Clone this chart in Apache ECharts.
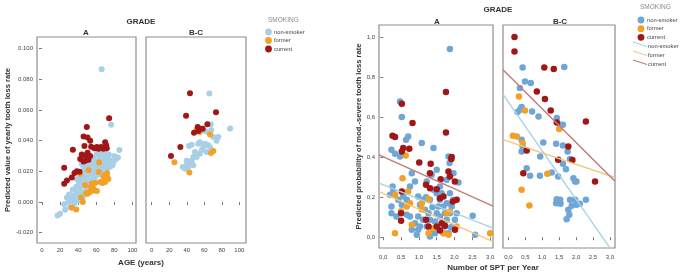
<!DOCTYPE html>
<html>
<head>
    <meta charset="utf-8">
    <title>Tooth loss by GRADE and SMOKING</title>
    <script src="https://cdn.jsdelivr.net/npm/echarts@6.0.0/dist/echarts.min.js"></script>
    <style>
        html, body { margin: 0; padding: 0; background: #fff; }
        #main { width: 685px; height: 276px; }
    </style>
</head>
<body>
<div id="main"></div>
<script type="text/javascript">
    // ---- left figure: AGE (years) vs predicted yearly tooth loss rate ----
    var ageA_nonSmoker = [[66,0.0865],[76.5,0.0504],[85.7,0.034],[82,0.028],[79,0.026],[71.7,0.031],[17.3,-0.0087],[20,-0.0076],
        [25.7,-0.005],[24.6,-0.0015],[27.6,0.003],[32,0.001],[33,0.0043],[36.8,0.002],[38.6,0.0054],[40.4,0.0076],[42.3,0.0098],
        [44,0.0065],[46,0.012],[47.8,0.014],[49.6,0.011],[50.4,0.016],[52.6,0.0185],[54,0.0217],[55,0.014],[57,0.0196],[58.8,0.0228],
        [60,0.0174],[61.4,0.025],[62.5,0.0207],[64.3,0.0239],[66.2,0.0185],[68,0.0272],[69.9,0.0228],[71.7,0.025],[44,0.025],
        [46,0.0228],[47.8,0.0185],[42.3,0.0163],[38.6,0.0148],[51.5,0.027],[57,0.029],[60.7,0.0315],[64.3,0.029],[53.3,0.0098],
        [51.5,0.0076],[47.8,0.0054],[40.4,0.001],[35.7,-0.001],[31.2,-0.0033],[75.4,0.023],[66.2,0.0326],[56,0.025],[59,0.02],
        [63,0.027],[49,0.02],[45,0.017],[43,0.006],[36,0.004],[29,0.0],[53,0.024],[67,0.022],[73,0.028],[78,0.024],
        [30,0.005],[34,0.008],[38,0.01],[41,0.013],[44,0.015],[47,0.021],[50,0.023],[52,0.013],[55,0.018],[57,0.023],
        [59,0.027],[61,0.021],[63,0.018],[65,0.025],[67,0.03],[69,0.026],[72,0.022],[74,0.031],[76,0.027],[80,0.03],
        [84,0.029],[58,0.015],[54,0.011],[49,0.008],[45,0.003],[39,0.007],[70,0.033],[62,0.031]];
    var ageA_former = [[33,-0.0037],[37.9,-0.0048],[43,0.003],[45.2,0.0],[42.3,0.0185],[51.5,0.0207],[47.8,0.011],[48.9,0.0059],
        [53.3,0.0065],[57,0.0087],[58.8,0.0124],[60.7,0.0072],[64.3,0.013],[62.9,0.0196],[63.2,0.0257],[68,0.0163],[69.9,0.018],
        [71.7,0.0174],[69.9,0.013],[66.9,0.0124],[73.5,0.015],[54,0.0098],[50.4,0.0054],[58,0.0076],[72,0.019],[55,0.012]];
    var ageA_current = [[74.3,0.0546],[49.6,0.0489],[46,0.0428],[50.4,0.042],[53.3,0.04],[34.2,0.0341],[47,0.0365],[54.4,0.036],
        [60.7,0.0359],[65.4,0.0359],[69.9,0.039],[71,0.037],[68,0.0348],[62.5,0.0348],[50.4,0.0322],[48,0.0304],[53.3,0.03],
        [42.3,0.028],[46,0.0265],[51.5,0.0276],[24.6,0.0224],[38.6,0.02],[36,0.019],[33,0.016],[27.6,0.014],[24.6,0.012],
        [41.5,0.0198],[71.7,0.035],[44,0.031],[48,0.027],[58,0.035]];

    var ageBC_nonSmoker = [[65.8,0.0707],[89.4,0.048],[67.3,0.0507],[42.6,0.0365],[45.6,0.0374],[35.4,0.0228],[38,0.0217],
        [39.9,0.024],[43.7,0.025],[45.6,0.027],[47.5,0.0293],[51.3,0.0293],[55,0.0315],[57,0.0337],[59,0.0359],[55,0.039],
        [53.2,0.038],[60.8,0.038],[64.6,0.037],[74,0.04],[76,0.0424],[70.3,0.0424],[39.9,0.027],[49.4,0.0326],[62.7,0.0326],
        [66.5,0.0359],[41.8,0.0228],[47.5,0.024],[62,0.046],[68,0.047]];
    var ageBC_former = [[25.9,0.026],[43,0.0193],[66.5,0.0441],[67.7,0.032],[70.3,0.0333],[55,0.0457],[51,0.047]];
    var ageBC_current = [[43.7,0.0709],[22,0.03],[32.7,0.0359],[39.2,0.0563],[52.5,0.049],[55,0.0478],[58.2,0.0478],
        [48.3,0.0452],[63.5,0.0507],[73.4,0.0585],[53.2,0.0463]];

    // ---- right figure: number of SPT per year vs predicted probability ----
    var sptA_nonSmoker = [[1.87,0.94],[0.47,0.678],[0.23,0.437],[0.33,0.417],[0.47,0.403],[0.7,0.503],[0.64,0.487],[1.08,0.47],
        [1.41,0.445],[0.26,0.253],[0.28,0.228],[0.19,0.212],[0.23,0.153],[0.23,0.12],[0.56,0.203],[0.66,0.187],[0.75,0.253],
        [0.8,0.32],[0.89,0.278],[0.98,0.203],[1.03,0.162],[1.12,0.187],[1.17,0.137],[1.27,0.12],[1.31,0.087],[1.22,0.053],
        [1.41,0.037],[1.45,0.078],[1.5,0.12],[1.55,0.153],[1.59,0.187],[1.64,0.22],[1.5,0.337],[1.36,0.312],[1.22,0.278],
        [1.59,0.037],[1.69,0.02],[1.73,0.053],[1.78,0.087],[1.83,0.02],[1.87,0.12],[1.92,0.153],[1.97,0.187],[2.01,0.087],
        [2.06,0.12],[2.11,0.273],[1.97,0.32],[1.86,0.37],[1.83,0.403],[2.51,0.107],[2.58,0.012],[0.98,0.037],[0.89,0.07],
        [0.75,0.103],[0.66,0.112],[0.37,0.103],[0.52,0.162],[0.42,0.187],[1.03,0.053],[1.12,0.087],[1.31,0.187],[1.41,0.237],
        [1.5,0.22],[1.59,0.253],[1.69,0.153],[1.73,0.12],[1.78,0.17],[1.59,0.103],[1.45,0.02],[1.31,0.003],[0.94,0.012],
        [0.8,0.037],[0.98,0.103],[1.87,0.22],[1.78,0.287],[0.52,0.6],[1.2,0.2],[1.38,0.15],[1.65,0.07],[1.9,0.05]];
    var sptA_former = [[0.63,0.408],[0.54,0.295],[0.33,0.212],[0.33,0.02],[0.7,0.228],[0.66,0.153],[0.8,0.062],[1.08,0.14],
        [1.27,0.02],[1.87,0.128],[1.78,0.12],[2.06,0.053],[3.0,0.02],[1.08,0.17],[1.27,0.19],[0.75,0.17],[1.41,0.045],
        [1.69,0.02],[1.83,0.012],[0.5,0.13]];
    var sptA_current = [[1.76,0.725],[1.76,0.523],[0.52,0.667],[0.82,0.57],[0.26,0.507],[0.33,0.5],[0.52,0.428],[0.56,0.445],
        [0.73,0.442],[1.01,0.373],[1.33,0.367],[1.92,0.4],[1.91,0.39],[1.83,0.328],[1.87,0.303],[2.01,0.278],[1.95,0.178],
        [2.06,0.187],[1.61,0.29],[1.5,0.24],[1.59,0.195],[1.69,0.203],[1.2,0.262],[1.31,0.245],[0.52,0.228],[0.5,0.12],
        [0.5,0.082],[1.2,0.087],[1.27,0.053],[1.59,0.033],[1.64,0.07],[1.73,0.057],[1.5,0.053],[1.31,0.32],[2.01,0.037]];

    var sptBC_nonSmoker = [[0.42,0.848],[1.65,0.85],[0.49,0.778],[0.66,0.77],[0.34,0.745],[0.39,0.65],[0.27,0.625],[0.34,0.637],
        [0.7,0.628],[0.89,0.603],[1.43,0.595],[1.53,0.562],[1.61,0.562],[0.39,0.487],[0.42,0.453],[0.39,0.428],[1.03,0.473],
        [1.41,0.467],[1.61,0.458],[1.75,0.428],[1.82,0.39],[0.94,0.403],[0.54,0.345],[0.64,0.307],[0.93,0.307],[1.28,0.323],
        [1.47,0.303],[1.61,0.367],[1.7,0.34],[1.92,0.295],[1.97,0.278],[2.01,0.278],[1.43,0.19],[1.47,0.173],[1.53,0.187],
        [1.41,0.17],[1.54,0.167],[1.82,0.187],[1.87,0.157],[1.97,0.187],[2.01,0.162],[2.11,0.167],[2.29,0.187],[1.77,0.137],
        [1.8,0.112],[1.72,0.09]];
    var sptBC_former = [[0.31,0.703],[0.49,0.633],[0.13,0.507],[0.25,0.503],[0.42,0.47],[0.39,0.237],[0.62,0.158],
        [1.15,0.317],[1.5,0.54]];
    var sptBC_current = [[0.18,1.0],[0.18,0.928],[1.06,0.848],[1.34,0.84],[0.84,0.728],[1.08,0.69],[1.25,0.633],[1.43,0.573],
        [2.29,0.578],[1.77,0.453],[1.47,0.387],[1.89,0.385],[0.54,0.433],[0.44,0.32],[2.56,0.278]];

    // fitted lines, given as [x, y] at both ends of each facet
    var fitA_nonSmoker = [[-0.12,0.27],[3.08,0.045]];
    var fitA_former = [[-0.12,0.228],[3.08,-0.022]];
    var fitA_current = [[-0.12,0.411],[3.08,0.155]];
    var fitBC_nonSmoker = [[-0.16,0.713],[3.15,-0.09]];
    var fitBC_former = [[-0.16,0.487],[3.15,0.298]];
    var fitBC_current = [[-0.16,0.836],[3.15,0.28]];

    var ageTicks = [0, 20, 40, 60, 80, 100];
    var rateTicks = [-0.02, 0, 0.02, 0.04, 0.06, 0.08, 0.1];
    var sptTicks = [0, 0.5, 1, 1.5, 2, 2.5, 3];
    var probTicks = [0, 0.2, 0.4, 0.6, 0.8, 1];

    var FONT = "'Liberation Sans', Arial, sans-serif";
    var C_NON_L = '#a9cfe6', C_NON_R = '#6ea7d6', C_FORMER = '#f2a127', C_CURRENT = '#a11616';
    var L_NON = '#a9d3e3', L_FORMER = '#f3c77f', L_CURRENT = '#c27b78';

    function xAxisOf(grid, min, max, ticks, fmt, margin) {
        return {
            type: 'value', gridIndex: grid, min: min, max: max,
            splitLine: {show: false},
            axisLine: {show: false},
            axisTick: {show: true, length: 3, customValues: ticks, lineStyle: {color: '#777'}},
            axisLabel: {customValues: ticks, formatter: fmt, fontSize: 6, color: '#444', margin: margin, fontFamily: FONT}
        };
    }

    function yAxisOf(grid, min, max, ticks, fmt, showLabels, name, gap) {
        return {
            type: 'value', gridIndex: grid, min: min, max: max,
            splitLine: {show: false},
            axisLine: {show: false},
            axisTick: {show: showLabels, length: 3, customValues: ticks, lineStyle: {color: '#777'}},
            axisLabel: {show: showLabels, customValues: ticks, formatter: fmt, fontSize: 6, color: '#444', margin: 4, fontFamily: FONT},
            name: name, nameLocation: 'middle', nameGap: gap,
            nameTextStyle: {fontSize: 7.6, fontWeight: 'bold', color: '#333', fontFamily: FONT}
        };
    }

    function dots(name, data, grid, color, size) {
        return {
            name: name, type: 'scatter', xAxisIndex: grid, yAxisIndex: grid,
            data: data, symbolSize: size, itemStyle: {color: color, opacity: 1}, silent: true
        };
    }

    function fit(name, data, grid, color) {
        return {
            name: name, type: 'line', xAxisIndex: grid, yAxisIndex: grid, data: data,
            symbol: 'none', clip: true, lineStyle: {color: color, width: 1.4}, silent: true
        };
    }

    var fmtRate = function (v) { return v.toFixed(3); };
    var fmtAge = function (v) { return String(Math.round(v)); };
    var fmtComma = function (v) { return v.toFixed(1).replace('.', ','); };

    function txt(x, y, s, size, bold, color, align) {
        return {
            type: 'text', x: x, y: y, silent: true,
            style: {text: s, fontSize: size, fontWeight: bold ? 'bold' : 'normal', fill: color || '#333',
                fontFamily: FONT, align: align || 'center', verticalAlign: 'middle'}
        };
    }

    function dot(cx, cy, color) {
        return {type: 'circle', shape: {cx: cx, cy: cy, r: 3.4}, style: {fill: color}, silent: true};
    }

    function seg(x1, y1, x2, y2, color) {
        return {type: 'line', shape: {x1: x1, y1: y1, x2: x2, y2: y2}, style: {stroke: color, lineWidth: 1.3}, silent: true};
    }

    var gridStyle = {show: true, borderColor: '#8e8e8e', borderWidth: 1.2, backgroundColor: '#fff'};

    var option = {
        animation: false,
        backgroundColor: '#fff',
        grid: [
            Object.assign({left: 37, top: 37, width: 99, height: 206}, gridStyle),
            Object.assign({left: 146, top: 37, width: 100, height: 206}, gridStyle),
            Object.assign({left: 379, top: 25, width: 114, height: 223}, gridStyle),
            Object.assign({left: 503, top: 25, width: 112, height: 223}, gridStyle)
        ],
        xAxis: [
            xAxisOf(0, -5.5, 104, ageTicks, fmtAge, 4),
            xAxisOf(1, -6.5, 107.6, ageTicks, fmtAge, 4),
            xAxisOf(2, -0.12, 3.08, sptTicks, fmtComma, 6),
            xAxisOf(3, -0.16, 3.15, sptTicks, fmtComma, 6)
        ],
        yAxis: [
            yAxisOf(0, -0.0267, 0.1076, rateTicks, fmtRate, true, 'Predicted value of yearly tooth loss rate', 24),
            yAxisOf(1, -0.0267, 0.1076, rateTicks, fmtRate, false, '', 0),
            yAxisOf(2, -0.054, 1.06, probTicks, fmtComma, true, 'Predicted probability of mod.-severe tooth loss rate', 15),
            yAxisOf(3, -0.054, 1.06, probTicks, fmtComma, false, '', 0)
        ],
        series: [
            dots('non-smoker', ageA_nonSmoker, 0, C_NON_L, 6),
            dots('former', ageA_former, 0, C_FORMER, 6),
            dots('current', ageA_current, 0, C_CURRENT, 6),
            dots('non-smoker', ageBC_nonSmoker, 1, C_NON_L, 6),
            dots('former', ageBC_former, 1, C_FORMER, 6),
            dots('current', ageBC_current, 1, C_CURRENT, 6),
            dots('non-smoker', sptA_nonSmoker, 2, C_NON_R, 6.5),
            dots('former', sptA_former, 2, C_FORMER, 6.5),
            dots('current', sptA_current, 2, C_CURRENT, 6.5),
            dots('non-smoker', sptBC_nonSmoker, 3, C_NON_R, 6.5),
            dots('former', sptBC_former, 3, C_FORMER, 6.5),
            dots('current', sptBC_current, 3, C_CURRENT, 6.5),
            fit('non-smoker fit', fitA_nonSmoker, 2, L_NON),
            fit('former fit', fitA_former, 2, L_FORMER),
            fit('current fit', fitA_current, 2, L_CURRENT),
            fit('non-smoker fit', fitBC_nonSmoker, 3, L_NON),
            fit('former fit', fitBC_former, 3, L_FORMER),
            fit('current fit', fitBC_current, 3, L_CURRENT)
        ],
        graphic: [
            // left figure headings
            txt(141, 22, 'GRADE', 8, true),
            txt(86, 33, 'A', 8, true),
            txt(196, 33, 'B-C', 8, true),
            txt(141, 263, 'AGE (years)', 8, true),
            // left legend
            txt(268, 20, 'SMOKING', 6.5, false, '#8a8a8a', 'left'),
            dot(268.5, 32, C_NON_L), txt(274, 32, 'non-smoker', 5.8, false, '#444', 'left'),
            dot(268.5, 40.5, C_FORMER), txt(274, 40.5, 'former', 5.8, false, '#444', 'left'),
            dot(268.5, 49, C_CURRENT), txt(274, 49, 'current', 5.8, false, '#444', 'left'),
            // right figure headings
            txt(498, 10, 'GRADE', 8, true),
            txt(437, 22, 'A', 8, true),
            txt(560, 22, 'B-C', 8, true),
            txt(493, 268, 'Number of SPT per Year', 8, true),
            // right legend
            txt(640, 7, 'SMOKING', 6.5, false, '#8a8a8a', 'left'),
            dot(641, 20, C_NON_R), txt(647, 20, 'non-smoker', 5.8, false, '#444', 'left'),
            dot(641, 28.7, C_FORMER), txt(647, 28.7, 'former', 5.8, false, '#444', 'left'),
            dot(641, 37.3, C_CURRENT), txt(647, 37.3, 'current', 5.8, false, '#444', 'left'),
            seg(633, 42, 647, 46.5, L_NON), txt(648, 46.5, 'non-smoker', 5.8, false, '#444', 'left'),
            seg(633, 51, 647, 55.5, L_FORMER), txt(648, 55.5, 'former', 5.8, false, '#444', 'left'),
            seg(633, 60, 647, 64.5, L_CURRENT), txt(648, 64.5, 'current', 5.8, false, '#444', 'left')
        ]
    };

    var chart = echarts.init(document.getElementById('main'), null, {renderer: 'canvas'});
    chart.setOption(option);
</script>
</body>
</html>
